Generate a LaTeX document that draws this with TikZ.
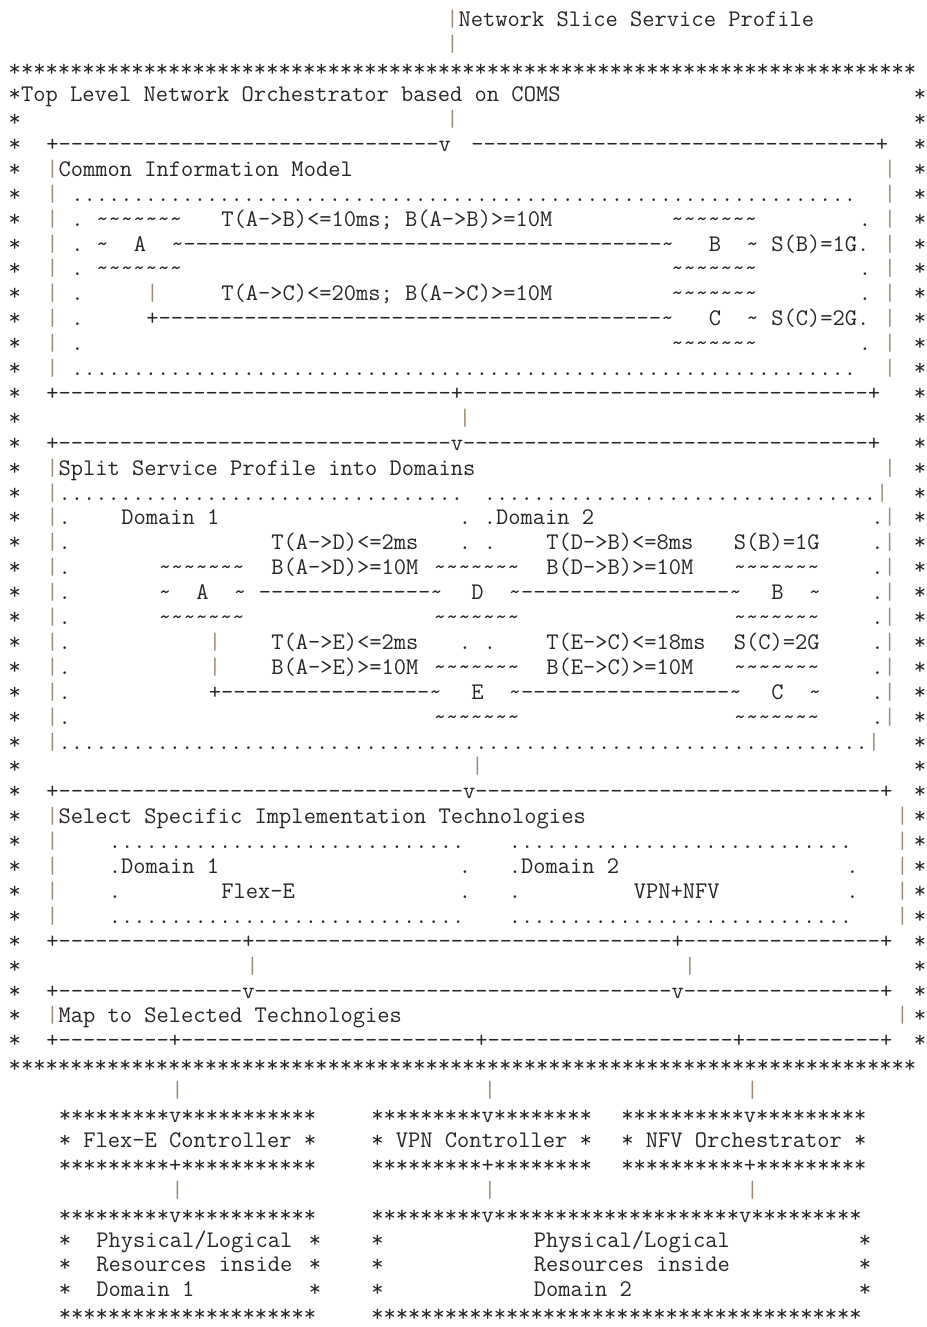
\documentclass[tikz,border=0pt]{standalone}
\usepackage{xcolor}
\definecolor{ink}{HTML}{262626}
\definecolor{barcol}{HTML}{9C8A74}
\newcommand\tld{\textasciitilde}
\newcommand\vb{\textcolor{barcol}{|}}
\ExplSyntaxOn
\NewDocumentCommand\rpt{mm}{\prg_replicate:nn{#1}{#2{}}}
\ExplSyntaxOff
\newcounter{segn}
\newcommand\Rw[3]{\stepcounter{segn}\edef\segname{s\arabic{segn}}%
  \node[txt] (\segname) at ({8.75+12.5*(#2)},{1300-24.9*(#1)}) {#3};}
\tikzset{txt/.style={inner sep=0pt,outer sep=0pt,anchor=base west,text=ink,
  font=\fontsize{23.81}{25}\selectfont\ttfamily\frenchspacing}}
\begin{document}
\begin{tikzpicture}[x=1pt,y=1pt]
\fill[white] (0,0) rectangle (926,1327);
\useasboundingbox (0,0) rectangle (926,1327);
% top input
\Rw{0}{35}{\vb Network Slice Service Profile}
\Rw{1}{35}{\vb}
\Rw{2}{0}{\rpt{74}{*}}
\Rw{3}{0}{*Top Level Network Orchestrator based on COMS}
\Rw{3}{72.4}{*}
\foreach \r in {4,...,41} {\Rw{\r}{0}{*}\Rw{\r}{72.4}{*}}
\Rw{4}{35}{\vb}
% Common Information Model box
\Rw{5}{3}{+\rpt{31}{-}v}
\Rw{5}{37}{\rpt{33}{-}+}
\Rw{6}{3}{\vb Common Information Model}
\Rw{6}{70}{\vb}
\foreach \r in {7,...,14} {\Rw{\r}{3}{\vb}\Rw{\r}{70}{\vb}}
\Rw{7}{5}{\rpt{64}{.}}
\Rw{8}{5}{.}
\Rw{8}{7}{\rpt7\tld}
\Rw{8}{17}{T(A->B)<=10ms; B(A->B)>=10M}
\Rw{8}{53}{\rpt7\tld}
\Rw{8}{68}{.}
\Rw{9}{5}{.}
\Rw{9}{7}{\tld}
\Rw{9}{10}{A}
\Rw{9}{13}{\tld\rpt{39}{-}\tld}
\Rw{9}{56}{B}
\Rw{9}{59}{\tld}
\Rw{9}{61}{S(B)=1G.}
\Rw{10}{5}{.}
\Rw{10}{7}{\rpt7\tld}
\Rw{10}{53}{\rpt7\tld}
\Rw{10}{68}{.}
\Rw{11}{5}{.}
\Rw{11}{11}{\vb}
\Rw{11}{17}{T(A->C)<=20ms; B(A->C)>=10M}
\Rw{11}{53}{\rpt7\tld}
\Rw{11}{68}{.}
\Rw{12}{5}{.}
\Rw{12}{11}{+\rpt{41}{-}\tld}
\Rw{12}{56}{C}
\Rw{12}{59}{\tld}
\Rw{12}{61}{S(C)=2G.}
\Rw{13}{5}{.}
\Rw{13}{53}{\rpt7\tld}
\Rw{13}{68}{.}
\Rw{14}{5}{\rpt{64}{.}}
\Rw{15}{3}{+\rpt{32}{-}+\rpt{33}{-}+}
\Rw{16}{36}{\vb}
% Split box
\Rw{17}{3}{+\rpt{32}{-}v\rpt{33}{-}+}
\Rw{18}{3}{\vb Split Service Profile into Domains}
\Rw{18}{70}{\vb}
\Rw{19}{3}{\vb\rpt{33}{.}}
\Rw{19}{38}{\rpt{32}{.}\vb}
\foreach \r in {20,...,28} {\Rw{\r}{3}{\vb.}\Rw{\r}{69}{.\vb}}
\Rw{20}{9}{Domain 1}
\Rw{20}{36}{.}
\Rw{20}{38}{.Domain 2}
\Rw{21}{21}{T(A->D)<=2ms}
\Rw{21}{36}{.}
\Rw{21}{38}{.}
\Rw{21}{43}{T(D->B)<=8ms}
\Rw{21}{58}{S(B)=1G}
\Rw{22}{12}{\rpt7\tld}
\Rw{22}{21}{B(A->D)>=10M}
\Rw{22}{34}{\rpt7\tld}
\Rw{22}{43}{B(D->B)>=10M}
\Rw{22}{58}{\rpt7\tld}
\Rw{23}{12}{\tld}
\Rw{23}{15}{A}
\Rw{23}{18}{\tld}
\Rw{23}{20}{\rpt{14}{-}\tld}
\Rw{23}{37}{D}
\Rw{23}{40}{\tld\rpt{17}{-}\tld}
\Rw{23}{61}{B}
\Rw{23}{64}{\tld}
\Rw{24}{12}{\rpt7\tld}
\Rw{24}{34}{\rpt7\tld}
\Rw{24}{58}{\rpt7\tld}
\Rw{25}{16}{\vb}
\Rw{25}{21}{T(A->E)<=2ms}
\Rw{25}{36}{.}
\Rw{25}{38}{.}
\Rw{25}{43}{T(E->C)<=18ms}
\Rw{25}{58}{S(C)=2G}
\Rw{26}{16}{\vb}
\Rw{26}{21}{B(A->E)>=10M}
\Rw{26}{34}{\rpt7\tld}
\Rw{26}{43}{B(E->C)>=10M}
\Rw{26}{58}{\rpt7\tld}
\Rw{27}{16}{+\rpt{17}{-}\tld}
\Rw{27}{37}{E}
\Rw{27}{40}{\tld\rpt{17}{-}\tld}
\Rw{27}{61}{C}
\Rw{27}{64}{\tld}
\Rw{28}{34}{\rpt7\tld}
\Rw{28}{58}{\rpt7\tld}
\Rw{29}{3}{\vb\rpt{66}{.}\vb}
\Rw{30}{37}{\vb}
% Select box
\Rw{31}{3}{+\rpt{33}{-}v\rpt{33}{-}+}
\Rw{32}{3}{\vb Select Specific Implementation Technologies}
\Rw{32}{71}{\vb}
\foreach \r in {33,...,36} {\Rw{\r}{3}{\vb}\Rw{\r}{71}{\vb}}
\Rw{33}{8}{\rpt{29}{.}}
\Rw{33}{40}{\rpt{28}{.}}
\Rw{34}{8}{.Domain 1}
\Rw{34}{36}{.}
\Rw{34}{40}{.Domain 2}
\Rw{34}{67}{.}
\Rw{35}{8}{.}
\Rw{35}{17}{Flex-E}
\Rw{35}{36}{.}
\Rw{35}{40}{.}
\Rw{35}{50}{VPN+NFV}
\Rw{35}{67}{.}
\Rw{36}{8}{\rpt{29}{.}}
\Rw{36}{40}{\rpt{28}{.}}
\Rw{37}{3}{+\rpt{15}{-}+\rpt{34}{-}+\rpt{16}{-}+}
\Rw{38}{19}{\vb}
\Rw{38}{54}{\vb}
% Map box
\Rw{39}{3}{+\rpt{15}{-}v\rpt{34}{-}v\rpt{16}{-}+}
\Rw{40}{3}{\vb Map to Selected Technologies}
\Rw{40}{71}{\vb}
\Rw{41}{3}{+\rpt{9}{-}+\rpt{24}{-}+\rpt{20}{-}+\rpt{11}{-}+}
\Rw{42}{0}{\rpt{74}{*}}
% controllers
\Rw{43}{13}{\vb}
\Rw{43}{38}{\vb}
\Rw{43}{59}{\vb}
\Rw{44}{4}{\rpt9*v\rpt{11}*}
\Rw{44}{29}{\rpt9*v\rpt8*}
\Rw{44}{49}{\rpt{10}*v\rpt9*}
\Rw{45}{4}{* Flex-E Controller *}
\Rw{45}{29}{* VPN Controller *}
\Rw{45}{49}{* NFV Orchestrator *}
\Rw{46}{4}{\rpt9*+\rpt{11}*}
\Rw{46}{29}{\rpt9*+\rpt8*}
\Rw{46}{49}{\rpt{10}*+\rpt9*}
\Rw{47}{13}{\vb}
\Rw{47}{38}{\vb}
\Rw{47}{59}{\vb}
% resources
\Rw{48}{4}{\rpt9*v\rpt{11}*}
\Rw{48}{29}{\rpt9*v\rpt{20}*v\rpt9*}
\foreach \r in {49,50,51} {\Rw{\r}{4}{*}\Rw{\r}{24}{*}\Rw{\r}{29}{*}\Rw{\r}{68}{*}}
\Rw{49}{7}{Physical/Logical}
\Rw{49}{42}{Physical/Logical}
\Rw{50}{7}{Resources inside}
\Rw{50}{42}{Resources inside}
\Rw{51}{7}{Domain 1}
\Rw{51}{42}{Domain 2}
\Rw{52}{4}{\rpt{21}*}
\Rw{52}{29}{\rpt{40}*}
\end{tikzpicture}
\end{document}
